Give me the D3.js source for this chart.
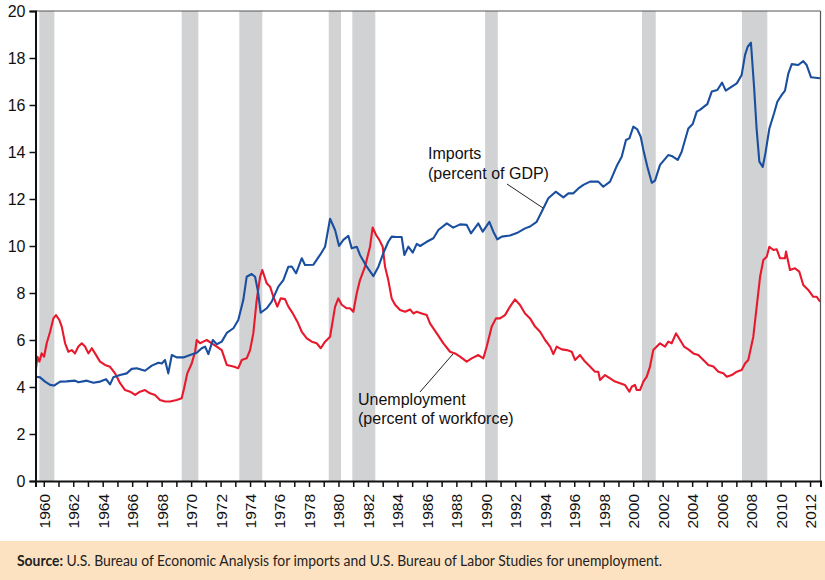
<!DOCTYPE html>
<html>
<head>
<meta charset="utf-8">
<script src="https://cdn.jsdelivr.net/npm/d3@7"></script>
<style>
  html, body { margin: 0; padding: 0; background: #fff; }
  svg { display: block; }
</style>
</head>
<body>
<svg id="chart" width="825" height="580"></svg>
<script>
// ---------------- DATA ----------------
const yTicks = [0, 2, 4, 6, 8, 10, 12, 14, 16, 18, 20];
const yearTicks = d3.range(1960, 2013);          // one tick per year
const yearLabels = yearTicks.filter(y => y % 2 === 0);

// Recession periods (shaded bands), start / end in decimal years
const recessions = [
  [1959.70, 1960.72], [1969.36, 1970.49], [1973.27, 1974.83], [1979.34, 1980.17],
  [1980.94, 1982.50], [1989.95, 1990.81], [2000.60, 2001.53], [2007.38, 2009.10]
];

// Imports, percent of GDP  [year, value]
const imports = [
  [1959.48,4.44],[1959.75,4.41],[1960.09,4.23],[1960.43,4.09],[1960.70,4.06],[1961.11,4.23],
  [1961.56,4.24],[1962.12,4.27],[1962.35,4.20],[1962.92,4.27],[1963.37,4.18],[1963.82,4.23],
  [1964.23,4.33],[1964.50,4.11],[1964.72,4.41],[1965.18,4.51],[1965.63,4.58],[1965.97,4.77],
  [1966.31,4.80],[1966.87,4.69],[1967.33,4.91],[1967.78,5.03],[1968.01,5.00],[1968.23,5.15],
  [1968.45,4.58],[1968.69,5.36],[1969.02,5.26],[1969.47,5.26],[1969.93,5.36],[1970.38,5.46],
  [1970.72,5.65],[1970.95,5.72],[1971.17,5.40],[1971.47,6.00],[1971.74,5.82],[1972.08,5.93],
  [1972.42,6.30],[1972.87,6.50],[1973.20,6.85],[1973.54,7.70],[1973.77,8.69],[1974.11,8.81],
  [1974.34,8.69],[1974.52,8.13],[1974.72,7.16],[1975.13,7.35],[1975.47,7.63],[1975.92,8.27],
  [1976.26,8.55],[1976.60,9.12],[1976.83,9.13],[1977.12,8.84],[1977.51,9.48],[1977.73,9.19],
  [1978.29,9.20],[1978.75,9.62],[1979.09,9.97],[1979.43,11.16],[1979.77,10.68],[1980.04,10.00],
  [1980.33,10.26],[1980.67,10.43],[1980.90,9.90],[1981.24,9.97],[1981.46,9.62],[1981.92,9.12],
  [1982.37,8.72],[1982.71,9.12],[1983.04,9.69],[1983.38,10.18],[1983.61,10.40],[1983.95,10.38],
  [1984.29,10.38],[1984.47,9.62],[1984.74,9.97],[1985.04,9.72],[1985.31,10.09],[1985.54,10.00],
  [1985.99,10.18],[1986.44,10.33],[1986.78,10.68],[1987.35,10.96],[1987.79,10.78],[1988.25,10.92],
  [1988.70,10.90],[1988.99,10.54],[1989.49,10.96],[1989.79,10.61],[1990.24,11.03],[1990.51,10.61],
  [1990.78,10.28],[1991.08,10.40],[1991.64,10.45],[1992.10,10.55],[1992.66,10.75],[1993.00,10.83],
  [1993.45,11.03],[1993.79,11.46],[1994.24,12.03],[1994.74,12.31],[1995.26,12.07],[1995.60,12.24],
  [1995.94,12.24],[1996.28,12.45],[1996.62,12.60],[1997.07,12.74],[1997.63,12.74],[1997.97,12.52],
  [1998.43,12.74],[1998.88,13.40],[1999.22,13.80],[1999.51,14.51],[1999.74,14.58],[2000.01,15.08],
  [2000.28,14.96],[2000.51,14.65],[2000.69,14.09],[2000.96,13.37],[2001.26,12.69],[2001.48,12.78],
  [2001.82,13.45],[2002.38,13.87],[2002.61,13.83],[2003.02,13.66],[2003.29,14.01],[2003.74,15.00],
  [2004.04,15.19],[2004.31,15.72],[2004.53,15.79],[2004.87,15.96],[2005.03,16.04],[2005.33,16.57],
  [2005.71,16.64],[2006.03,16.95],[2006.28,16.61],[2006.69,16.78],[2007.03,16.92],[2007.36,17.28],
  [2007.59,18.13],[2007.77,18.48],[2007.99,18.65],[2008.20,16.78],[2008.38,14.94],[2008.56,13.59],
  [2008.79,13.37],[2008.97,13.94],[2009.24,15.00],[2009.56,15.65],[2009.78,16.14],[2010.08,16.43],
  [2010.30,16.61],[2010.53,17.35],[2010.76,17.74],[2011.20,17.70],[2011.54,17.87],[2011.77,17.70],
  [2012.07,17.18],[2012.68,17.14]
];

// Unemployment, percent of workforce  [year, value]
const unemployment = [
  [1959.48,4.80],[1959.57,5.29],[1959.70,5.08],[1959.86,5.43],[1960.02,5.29],[1960.20,5.86],
  [1960.43,6.35],[1960.65,6.92],[1960.83,7.06],[1961.06,6.85],[1961.22,6.57],[1961.45,5.86],
  [1961.67,5.50],[1961.90,5.57],[1962.12,5.43],[1962.35,5.72],[1962.58,5.86],[1962.80,5.72],
  [1963.03,5.43],[1963.26,5.65],[1963.48,5.43],[1963.82,5.08],[1964.16,4.94],[1964.50,4.86],
  [1964.84,4.58],[1965.18,4.16],[1965.52,3.87],[1965.86,3.80],[1966.20,3.66],[1966.53,3.80],
  [1966.87,3.87],[1967.21,3.73],[1967.55,3.66],[1967.89,3.45],[1968.23,3.38],[1968.57,3.38],
  [1969.02,3.45],[1969.36,3.52],[1969.52,3.94],[1969.74,4.58],[1970.04,5.00],[1970.27,5.50],
  [1970.38,6.00],[1970.61,5.86],[1970.83,5.93],[1971.06,6.00],[1971.40,5.86],[1971.74,5.72],
  [1972.08,5.57],[1972.42,4.94],[1972.87,4.87],[1973.20,4.80],[1973.44,5.15],[1973.77,5.22],
  [1974.00,5.57],[1974.22,6.28],[1974.45,7.70],[1974.68,8.69],[1974.83,8.98],[1975.13,8.41],
  [1975.36,8.27],[1975.58,7.84],[1975.85,7.42],[1976.08,7.77],[1976.37,7.74],[1976.60,7.42],
  [1976.90,7.13],[1977.21,6.78],[1977.51,6.35],[1977.85,6.07],[1978.19,5.93],[1978.52,5.86],
  [1978.80,5.65],[1979.09,5.93],[1979.43,6.14],[1979.77,7.42],[1979.99,7.77],[1980.22,7.50],
  [1980.56,7.35],[1980.78,7.35],[1981.01,7.20],[1981.24,7.99],[1981.46,8.55],[1981.80,9.12],
  [1982.14,9.97],[1982.32,10.79],[1982.55,10.47],[1982.77,10.26],[1983.00,9.97],[1983.16,9.12],
  [1983.38,8.55],[1983.61,7.77],[1983.84,7.50],[1984.18,7.28],[1984.52,7.20],[1984.86,7.30],
  [1985.08,7.13],[1985.31,7.20],[1985.65,7.13],[1985.99,7.06],[1986.21,6.71],[1986.67,6.28],
  [1987.12,5.86],[1987.57,5.50],[1987.91,5.43],[1988.25,5.29],[1988.70,5.08],[1989.04,5.22],
  [1989.49,5.36],[1989.83,5.22],[1990.06,5.72],[1990.40,6.57],[1990.69,6.92],[1990.96,6.92],
  [1991.30,7.06],[1991.64,7.42],[1991.98,7.73],[1992.32,7.49],[1992.66,7.13],[1993.00,6.92],
  [1993.34,6.57],[1993.68,6.35],[1994.02,6.00],[1994.36,5.72],[1994.58,5.40],[1994.81,5.72],
  [1995.15,5.60],[1995.49,5.57],[1995.83,5.50],[1996.05,5.15],[1996.39,5.36],[1996.73,5.08],
  [1997.07,4.87],[1997.41,4.65],[1997.63,4.65],[1997.75,4.30],[1998.09,4.51],[1998.43,4.37],
  [1998.77,4.23],[1999.11,4.16],[1999.44,4.09],[1999.74,3.80],[1999.90,4.01],[2000.12,4.09],
  [2000.24,3.87],[2000.46,3.87],[2000.69,4.23],[2000.92,4.44],[2001.14,4.87],[2001.36,5.57],
  [2001.60,5.72],[2001.82,5.86],[2002.16,5.72],[2002.38,5.93],[2002.61,5.86],[2002.91,6.28],
  [2003.18,6.00],[2003.45,5.72],[2003.74,5.60],[2004.08,5.43],[2004.42,5.36],[2004.76,5.15],
  [2005.10,4.94],[2005.44,4.87],[2005.78,4.65],[2006.12,4.58],[2006.35,4.44],[2006.69,4.51],
  [2007.03,4.65],[2007.36,4.72],[2007.59,5.00],[2007.81,5.15],[2008.15,6.14],[2008.38,7.42],
  [2008.61,8.69],[2008.83,9.40],[2009.06,9.54],[2009.24,9.97],[2009.51,9.83],[2009.74,9.86],
  [2009.96,9.48],[2010.30,9.48],[2010.37,9.76],[2010.64,8.98],[2010.98,9.05],[2011.27,8.91],
  [2011.54,8.34],[2011.88,8.13],[2012.22,7.84],[2012.45,7.84],[2012.68,7.63]
];

const importsLabel = ["Imports", "(percent of GDP)"];
const unempLabel = ["Unemployment", "(percent of workforce)"];
const sourceBold = "Source:";
const sourceText = " U.S. Bureau of Economic Analysis for imports and U.S. Bureau of Labor Studies for unemployment.";

// ---------------- LAYOUT ----------------
const svg = d3.select("#chart");
const L = 35.5, R = 820.5, T = 11, B = 481;
const x = d3.scaleLinear().domain([1959.44, 2012.71]).range([L, R]);
const y = d3.scaleLinear().domain([0, 20]).range([B, T]);
const FONT = "'Liberation Sans', Arial, Helvetica, sans-serif";

svg.append("rect").attr("width", 825).attr("height", 580).attr("fill", "#fff");

// recession bands
svg.append("g").selectAll("rect").data(recessions).join("rect")
  .attr("x", d => x(d[0])).attr("width", d => x(d[1]) - x(d[0]))
  .attr("y", T).attr("height", B - T)
  .attr("fill", "#d1d2d4");

// clip
svg.append("clipPath").attr("id", "plotclip").append("rect")
  .attr("x", L).attr("y", T).attr("width", R - L).attr("height", B - T);

const line = d3.line().x(d => x(d[0])).y(d => y(d[1])).curve(d3.curveLinear);

const lines = svg.append("g").attr("clip-path", "url(#plotclip)");
lines.append("path").datum(unemployment).attr("d", line)
  .attr("fill", "none").attr("stroke", "#e8192c").attr("stroke-width", 2.1)
  .attr("stroke-linejoin", "round");
lines.append("path").datum(imports).attr("d", line)
  .attr("fill", "none").attr("stroke", "#1a4f9f").attr("stroke-width", 2.1)
  .attr("stroke-linejoin", "round");

// frame (top / right)
svg.append("line").attr("x1", L).attr("x2", R).attr("y1", T).attr("y2", T)
  .attr("stroke", "#555").attr("stroke-width", 1.2);
svg.append("line").attr("x1", R).attr("x2", R).attr("y1", T).attr("y2", B)
  .attr("stroke", "#555").attr("stroke-width", 1.2);

// y axis
const yAxis = svg.append("g").attr("transform", `translate(${L},0)`)
  .call(d3.axisLeft(y).tickValues(yTicks).tickSize(6).tickPadding(4).tickFormat(d3.format("d")));
yAxis.select(".domain").attr("stroke", "#111").attr("stroke-width", 2);
yAxis.selectAll(".tick line").attr("stroke", "#111").attr("stroke-width", 1.5);
yAxis.selectAll(".tick text").attr("font-family", FONT).attr("font-size", 16).attr("fill", "#111");

// x axis
const xAxis = svg.append("g").attr("transform", `translate(0,${B})`)
  .call(d3.axisBottom(x).tickValues(yearTicks).tickSize(6)
    .tickFormat(d => yearLabels.includes(d) ? String(d) : ""));
xAxis.select(".domain").attr("stroke", "#111").attr("stroke-width", 2);
xAxis.selectAll(".tick line").attr("stroke", "#111").attr("stroke-width", 1.5);
xAxis.selectAll(".tick text")
  .attr("font-family", FONT).attr("font-size", 15.5).attr("fill", "#111")
  .attr("transform", "rotate(-90)")
  .attr("text-anchor", "end").attr("dy", "0.35em").attr("x", -13).attr("y", 0);

// annotations
const ann = svg.append("g").attr("font-family", FONT).attr("font-size", 16).attr("fill", "#111");
ann.selectAll("text.imp").data(importsLabel).join("text").attr("class", "imp")
  .attr("x", 428).attr("y", (d, i) => 159 + i * 20).text(d => d);
ann.append("line").attr("x1", 507).attr("y1", 184).attr("x2", 543).attr("y2", 208)
  .attr("stroke", "#222").attr("stroke-width", 1);
ann.selectAll("text.un").data(unempLabel).join("text").attr("class", "un")
  .attr("x", 358).attr("y", (d, i) => 405 + i * 19).text(d => d);
ann.append("line").attr("x1", 420).attr("y1", 392).attr("x2", 453).attr("y2", 354)
  .attr("stroke", "#222").attr("stroke-width", 1);

// footer
svg.append("rect").attr("x", 0).attr("y", 541).attr("width", 825).attr("height", 39)
  .attr("fill", "#fde2c1");
const ft = svg.append("text").attr("x", 17).attr("y", 566)
  .attr("font-family", "Lato, 'Open Sans', sans-serif").attr("font-size", 14.5).attr("fill", "#222")
  .attr("textLength", 645).attr("lengthAdjust", "spacingAndGlyphs");
ft.append("tspan").attr("font-weight", "bold").text(sourceBold);
ft.append("tspan").text(sourceText);
</script>
</body>
</html>
